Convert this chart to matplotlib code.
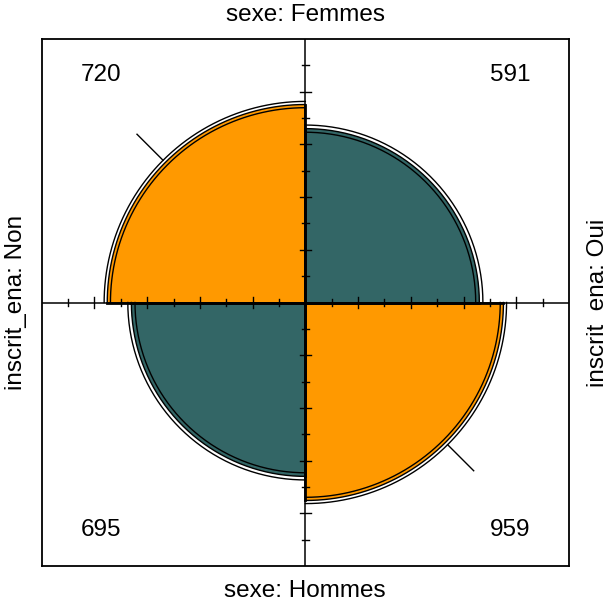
import numpy as np
import matplotlib.pyplot as plt

# fourfold display: sexe x inscrit_ena
sexe = ["Femmes", "Hommes"]
inscrit = ["Non", "Oui"]
counts = [[720, 591],
          [695, 959]]
col_pos = "#FF9900"
col_neg = "#336666"

plt.rcParams["font.family"] = ["Liberation Sans", "DejaVu Sans"]

a, b = counts[0]
c, d = counts[1]
# standardize both margins -> table [[u, 1-u], [1-u, u]]
log_or = np.log(a * d / (b * c))
se = np.sqrt(1 / a + 1 / b + 1 / c + 1 / d)


def u_of(lor):
    s = np.sqrt(np.exp(lor))
    return s / (1 + s)


u_fit = u_of(log_or)
u_lo = u_of(log_or - 1.96 * se)
u_hi = u_of(log_or + 1.96 * se)

fig = plt.figure(figsize=(6.05, 6.07), dpi=100)
ax = fig.add_axes([41.7 / 605, 41 / 607, 527.3 / 605, 527 / 607])
ax.set_xlim(-1, 1)
ax.set_ylim(-1, 1)
ax.set_xticks([])
ax.set_yticks([])
for sp in ax.spines.values():
    sp.set_linewidth(1.3)

# cells: (row, col) -> angle range; diagonal cells get u, others 1-u
cells = [(0, 0, 90, 180), (0, 1, 0, 90), (1, 0, 180, 270), (1, 1, 270, 360)]
for i, j, t0, t1 in cells:
    diag = i == j
    th = np.radians(np.linspace(t0, t1, 200))
    r = np.sqrt(u_fit if diag else 1 - u_fit)
    xs = np.concatenate([[0], r * np.cos(th), [0]])
    ys = np.concatenate([[0], r * np.sin(th), [0]])
    ax.fill(xs, ys, color=col_pos if diag else col_neg, lw=0, zorder=2)
    ax.plot(r * np.cos(th), r * np.sin(th), color="black", lw=1.0, zorder=3)
    ax.plot([0, r * np.cos(th[0])], [0, r * np.sin(th[0])], color="black", lw=2.0, zorder=4)
    ax.plot([0, r * np.cos(th[-1])], [0, r * np.sin(th[-1])], color="black", lw=2.0, zorder=4)
    for uu in (u_lo, u_hi):
        rr = np.sqrt(uu if diag else 1 - uu)
        ax.plot(rr * np.cos(th), rr * np.sin(th), color="black", lw=1.0, zorder=3)
    ax.text(0.776 * (1 if j == 1 else -1), 0.864 * (1 if i == 0 else -1),
            str(counts[i][j]), ha="center", va="center", fontsize=17.5, zorder=5)

# diagonal marks beyond the outer ring
r_out = np.sqrt(u_hi)
for ang in (135, 315):
    t = np.radians(ang)
    ax.plot([r_out * np.cos(t), 0.903 * np.cos(t)], [r_out * np.sin(t), 0.903 * np.sin(t)],
            color="black", lw=1.0, zorder=3)

# axes through the centre with ticks every 0.1
ax.plot([-1, 1], [0, 0], color="black", lw=1.1, zorder=4)
ax.plot([0, 0], [-1, 1], color="black", lw=1.1, zorder=4)
for k in range(1, 10):
    h = 0.022 if k % 2 == 0 else 0.012
    for s in (-1, 1):
        p = s * k / 10
        ax.plot([p, p], [-h, h], color="black", lw=1.0, zorder=4)
        ax.plot([-h, h], [p, p], color="black", lw=1.0, zorder=4)

fs = 17.5
fig.text(305 / 605, 1 - 15.4 / 607, "sexe: " + sexe[0], ha="center", va="center", fontsize=fs)
fig.text(305 / 605, 1 - 590.7 / 607, "sexe: " + sexe[1], ha="center", va="center", fontsize=fs)
fig.text(16.2 / 605, 1 - 302 / 607, "inscrit_ena: " + inscrit[0], ha="center", va="center",
         rotation=90, fontsize=fs)
fig.text(598 / 605, 1 - 303 / 607, "inscrit_ena: " + inscrit[1], ha="center", va="center",
         rotation=90, fontsize=fs)

fig.savefig("out.png", dpi=100)
